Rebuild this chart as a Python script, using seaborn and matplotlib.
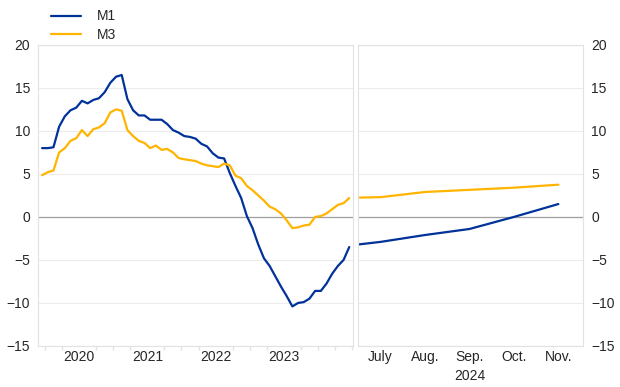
import numpy as np
import pandas as pd
import matplotlib
matplotlib.use("Agg")
import matplotlib.pyplot as plt
import seaborn as sns

# --- data: annual growth rates, monthly, Dec 2019 - Jun 2024 ---
m1_hist = [8.0, 8.0, 8.1, 10.5, 11.7, 12.4, 12.7, 13.5, 13.2, 13.6, 13.8, 14.5, 15.6,
           16.3, 16.5, 13.7, 12.4, 11.8, 11.8, 11.3, 11.3, 11.3, 10.8, 10.1, 9.8,
           9.4, 9.3, 9.1, 8.5, 8.2, 7.4, 6.9, 6.8, 5.1, 3.6, 2.2, 0.1,
           -1.3, -3.2, -4.8, -5.7, -6.9, -8.1, -9.2, -10.4, -10.0, -9.9, -9.5, -8.6,
           -8.6, -7.75, -6.6, -5.7, -5.0, -3.5]
m3_hist = [4.85, 5.2, 5.4, 7.5, 8.0, 8.85, 9.15, 10.1, 9.4, 10.2, 10.4, 10.9, 12.15,
           12.5, 12.35, 10.1, 9.4, 8.85, 8.6, 8.0, 8.3, 7.8, 7.9, 7.5, 6.85,
           6.7, 6.6, 6.5, 6.2, 6.0, 5.9, 5.8, 6.2, 6.0, 4.8, 4.5, 3.6,
           3.1, 2.5, 1.9, 1.2, 0.9, 0.4, -0.4, -1.3, -1.2, -1.0, -0.9, 0.0,
           0.1, 0.4, 0.9, 1.4, 1.6, 2.2]

# recent months, Jun - Nov 2024
recent_months = ["June", "July", "Aug.", "Sep.", "Oct.", "Nov."]
m1_recent = [-3.5, -2.9, -2.1, -1.4, 0.0, 1.5]
m3_recent = [2.2, 2.3, 2.9, 3.15, 3.4, 3.75]

years = [2020, 2021, 2022, 2023]

blue = "#003299"
yellow = "#ffb400"

sns.set_theme(style="white")
plt.rcParams["font.family"] = ["Liberation Sans", "DejaVu Sans"]
plt.rcParams["font.size"] = 10

# mid-month positions in fractional years
t_hist = 2019 + 11.5 / 12 + np.arange(len(m1_hist)) / 12
hist = pd.DataFrame({"t": np.tile(t_hist, 2),
                     "value": m1_hist + m3_hist,
                     "series": ["M1"] * len(m1_hist) + ["M3"] * len(m3_hist)})
recent = pd.DataFrame({"t": np.tile(np.arange(len(recent_months)), 2),
                       "value": m1_recent + m3_recent,
                       "series": ["M1"] * len(m1_recent) + ["M3"] * len(m3_recent)})
pal = {"M1": blue, "M3": yellow}

fig = plt.figure(figsize=(6.2, 3.87), dpi=100)
ax1 = fig.add_axes([0.062, 0.106, 0.507, 0.778])
ax2 = fig.add_axes([0.578, 0.106, 0.362, 0.778])

sns.lineplot(data=hist, x="t", y="value", hue="series", palette=pal, lw=1.6, ax=ax1)
sns.lineplot(data=recent, x="t", y="value", hue="series", palette=pal, lw=1.6,
             ax=ax2, legend=False)

for ax in (ax1, ax2):
    ax.set_ylim(-15, 20)
    ax.set_yticks(range(-15, 21, 5))
    ax.yaxis.grid(True, color="#ececec", lw=0.8)
    ax.axhline(0, color="#a0a0a0", lw=0.9, zorder=1)
    for s in ax.spines.values():
        s.set_color("#e2e2e2")
        s.set_linewidth(0.8)
    ax.set_xlabel("")
    ax.set_ylabel("")
    ax.tick_params(axis="y", length=0, labelsize=10, pad=6)

# left panel x axis
ax1.set_xlim(2019.905, 2024.51)
ax1.set_xticks([y + 0.5 for y in years])
ax1.set_xticklabels([str(y) for y in years])
ax1.set_xticks(np.arange(2020, 2024.6, 0.25), minor=True)
ax1.tick_params(axis="x", which="major", length=0, labelsize=10, pad=3)
ax1.tick_params(axis="x", which="minor", length=3, color="#e2e2e2", bottom=True)

# right panel x axis
ax2.set_xlim(0.5, 5.55)
ax2.set_xticks(range(1, 6))
ax2.set_xticklabels(recent_months[1:])
ax2.tick_params(axis="x", length=0, labelsize=10, pad=3)
ax2.yaxis.tick_right()
ax2.tick_params(axis="y", left=False, right=False, labelright=True, labelleft=False)
ax2.text(3, -0.076, "2024", transform=ax2.get_xaxis_transform(), ha="center",
         va="top", fontsize=10)

handles, labels = ax1.get_legend_handles_labels()
ax1.get_legend().remove()
fig.legend(handles, labels, loc="upper left", bbox_to_anchor=(0.062, 1.008),
           frameon=False, fontsize=10, handlelength=2.2, handletextpad=1.1,
           labelspacing=0.35)

fig.savefig("out.png", dpi=100)
